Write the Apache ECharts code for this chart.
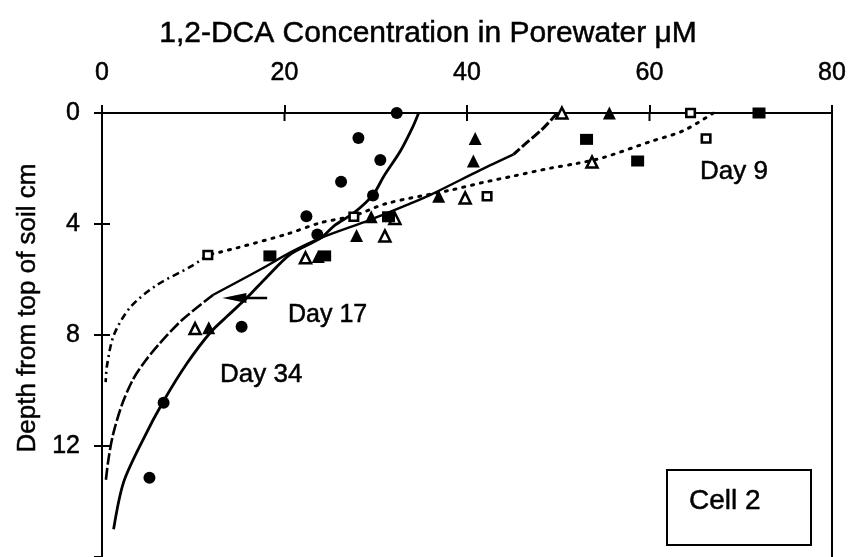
<!DOCTYPE html>
<html>
<head>
<meta charset="utf-8">
<script src="https://cdn.jsdelivr.net/npm/echarts@6/dist/echarts.min.js"></script>
<style>
  html, body { margin: 0; padding: 0; background: #fff; }
  #chart { width: 852px; height: 557px; }
</style>
</head>
<body>
<div id="chart"></div>
<script>
// Concentration axis (µM) and depth axis (cm) tick values
const concTicks = [0, 20, 40, 60, 80];
const depthTicks = [0, 4, 8, 12];

// Measured porewater profiles: [concentration µM, depth cm]
const day9Open = [[64.5, 0], [66.2, 0.92], [42.2, 3.0], [27.6, 3.74], [11.6, 5.12]];
const day9Filled = [[72.0, 0], [53.1, 0.95], [58.7, 1.73], [31.4, 3.74], [18.4, 5.15], [24.4, 5.15]];
const day17Open = [[50.4, 0], [53.7, 1.77], [39.8, 3.06], [32.1, 3.8], [31.0, 4.43], [22.3, 5.22], [10.2, 7.77]];
const day17Filled = [[55.6, 0], [40.9, 0.92], [40.7, 1.73], [36.9, 3.0], [29.5, 3.74], [27.9, 4.41], [23.7, 5.17], [11.7, 7.74]];
const day34Filled = [[32.3, 0], [28.1, 0.9], [30.5, 1.69], [26.2, 2.48], [29.7, 2.97], [22.4, 3.72], [23.6, 4.38], [15.3, 7.7], [6.75, 10.44], [5.2, 13.14]];

// Fitted profiles
const fitDay9 = [[67.0, 0], [63.7, 0.64], [60.1, 1.03], [55.0, 1.6], [52.0, 1.82], [49.1, 1.99], [45.1, 2.27], [41.8, 2.5], [38.2, 2.78], [31.2, 3.26], [27.6, 3.7], [23.9, 3.96], [20.3, 4.36], [14.8, 4.86], [11.6, 5.12], [9.7, 5.54], [6.0, 6.2], [3.1, 7.0], [1.3, 8.0], [0.55, 9.1], [0.4, 9.7]];
const fitDay17 = [[49.9, 0], [48.2, 0.6], [46.6, 1.05], [45.1, 1.49], [41.5, 2.05], [36.0, 2.95], [33.6, 3.29], [29.4, 3.85], [24.0, 4.5], [20.6, 5.03], [17.3, 5.65], [12.2, 6.55], [8.8, 7.45], [6.2, 8.35], [4.6, 9.0], [3.4, 9.6], [2.2, 10.5], [1.2, 11.6], [0.7, 12.5], [0.4, 13.3]];
const fitDay34 = [[34.7, 0], [34.1, 0.47], [32.7, 1.37], [30.9, 2.27], [29.7, 2.95], [27.6, 3.6], [25.5, 4.05], [24.0, 4.5], [20.6, 5.1], [18.1, 5.9], [15.9, 6.65], [13.8, 7.3], [11.9, 7.9], [9.3, 9.03], [6.75, 10.38], [4.56, 11.73], [2.37, 13.3], [1.27, 15.0]];

// Arrow pointing at the Day 17 profile: [from conc, to conc, depth]
const day17Arrow = [[18.1, 13.2, 6.67]];

const FONT = '"Liberation Sans", Arial, Helvetica, sans-serif';
const INK = '#000';

const chart = echarts.init(document.getElementById('chart'), null, { renderer: 'canvas' });

function filled(symbol, size) {
  return { symbol, symbolSize: size, itemStyle: { color: INK, borderWidth: 0, opacity: 1 } };
}
function hollow(symbol, size) {
  return { symbol, symbolSize: size, itemStyle: { color: '#fff', borderColor: INK, borderWidth: 2.5, opacity: 1 } };
}
function scatter(name, data, look, z) {
  return Object.assign({ type: 'scatter', name, data, z, silent: true, emphasis: { disabled: true } }, look);
}
function fit(name, data, lineStyle) {
  return {
    type: 'line', name, data, showSymbol: false, smooth: 0.3, z: 3, silent: true,
    lineStyle: Object.assign({ color: INK, width: 2.6 }, lineStyle)
  };
}
function label(text, x, y, size, extra) {
  return Object.assign({
    type: 'text', x, y, silent: true,
    style: { text, font: size + 'px ' + FONT, fill: INK, stroke: INK, lineWidth: 0.5,
      align: 'left', verticalAlign: 'middle' }
  }, extra || {});
}

const tickFont = { color: INK, fontSize: 25, fontFamily: FONT, textBorderColor: INK, textBorderWidth: 0.5 };
const dotted = { type: [2, 7], cap: 'round', width: 3 };
const dashDot = { type: [7, 4, 2, 4], width: 2.6 };
const dashed = { type: [12, 3], width: 2.6 };

const option = {
  animation: false,
  backgroundColor: '#fff',
  grid: { left: 102, top: 113, right: 20, bottom: -30, containLabel: false },
  xAxis: {
    type: 'value', position: 'top', min: 0, max: 80, interval: 20,
    axisLine: { show: true, onZero: false, lineStyle: { color: INK, width: 2 } },
    axisTick: { show: true, inside: false, length: 8, lineStyle: { color: INK, width: 2 } },
    axisLabel: Object.assign({ margin: 27, formatter: v => concTicks.includes(v) ? String(v) : '' }, tickFont),
    splitLine: { show: false }
  },
  yAxis: [
    {
      type: 'value', position: 'left', inverse: true, min: 0, max: 16, interval: 4,
      axisLine: { show: true, onZero: false, lineStyle: { color: INK, width: 2 } },
      axisTick: { show: true, inside: false, length: 8, lineStyle: { color: INK, width: 2 } },
      axisLabel: Object.assign({ margin: 22, formatter: v => depthTicks.includes(v) ? String(v) : '' }, tickFont),
      splitLine: { show: false }
    },
    {
      type: 'value', position: 'right', inverse: true, min: 0, max: 16, interval: 4,
      axisLine: { show: true, onZero: false, lineStyle: { color: INK, width: 2 } },
      axisTick: { show: false }, axisLabel: { show: false }, splitLine: { show: false }
    }
  ],
  series: [
    // Day 9 fit: dotted near the surface, dash-dot deeper down
    fit('Day 9 fit', fitDay9.slice(0, 15), dotted),
    fit('Day 9 fit deep', fitDay9.slice(14), dashDot),
    // Day 17 fit: dashed cap, solid middle, dashed tail
    fit('Day 17 fit top', fitDay17.slice(0, 4), { type: [10, 3], width: 3 }),
    fit('Day 17 fit', fitDay17.slice(3, 12), { type: 'solid', width: 2.4 }),
    fit('Day 17 fit deep', fitDay17.slice(11), dashed),
    fit('Day 34 fit', fitDay34, { type: 'solid', width: 2.8 }),
    scatter('Day 17 open', day17Open, hollow('triangle', 11), 5),
    scatter('Day 9 open', day9Open, hollow('rect', [8.5, 8]), 5),
    scatter('Day 17 filled', day17Filled, filled('triangle', 13), 6),
    scatter('Day 9 filled', day9Filled, filled('rect', [13, 11]), 6),
    scatter('Day 34 filled', day34Filled, filled('circle', 12), 6),
    {
      // inward half of the concentration ticks
      type: 'custom', name: 'conc ticks', silent: true, z: 4,
      data: concTicks,
      renderItem: (params, api) => {
        const p = api.coord([api.value(0), 0]);
        return { type: 'line', shape: { x1: p[0], y1: p[1], x2: p[0], y2: p[1] + 8 },
          style: { stroke: INK, lineWidth: 2 } };
      }
    },
    {
      // inward half of the depth ticks
      type: 'custom', name: 'depth ticks', silent: true, z: 4,
      data: depthTicks.map(d => [0, d]),
      renderItem: (params, api) => {
        const p = api.coord([0, api.value(1)]);
        return { type: 'line', shape: { x1: p[0], y1: p[1], x2: p[0] + 8, y2: p[1] },
          style: { stroke: INK, lineWidth: 2 } };
      }
    },
    {
      type: 'custom', name: 'Day 17 arrow', silent: true, z: 7,
      data: day17Arrow,
      renderItem: (params, api) => {
        const a = api.coord([api.value(0), api.value(2)]);
        const b = api.coord([api.value(1), api.value(2)]);
        return {
          type: 'group',
          children: [
            { type: 'line', shape: { x1: a[0], y1: a[1], x2: b[0] + 12, y2: b[1] },
              style: { stroke: INK, lineWidth: 2.5 } },
            { type: 'polygon', shape: { points: [[b[0], b[1]], [b[0] + 24, b[1] - 5], [b[0] + 24, b[1] + 5]] },
              style: { fill: INK } }
          ]
        };
      }
    }
  ],
  graphic: [
    label('1,2-DCA Concentration in Porewater \u03BCM', 428, 34, 30, {}),
    label('Depth from top of soil cm', 28, 308, 26, { rotation: Math.PI / 2 }),
    label('Day 9', 700, 172, 26),
    label('Day 17', 288, 315, 25),
    label('Day 34', 220, 375, 26),
    { type: 'rect', x: 667, y: 470, silent: true, shape: { width: 144, height: 75 },
      style: { fill: '#fff', stroke: INK, lineWidth: 2 } },
    label('Cell 2', 689, 501, 28)
  ]
};
// centre the two axis titles
option.graphic[0].style.align = 'center';
option.graphic[1].style.align = 'center';

chart.setOption(option);
</script>
</body>
</html>
